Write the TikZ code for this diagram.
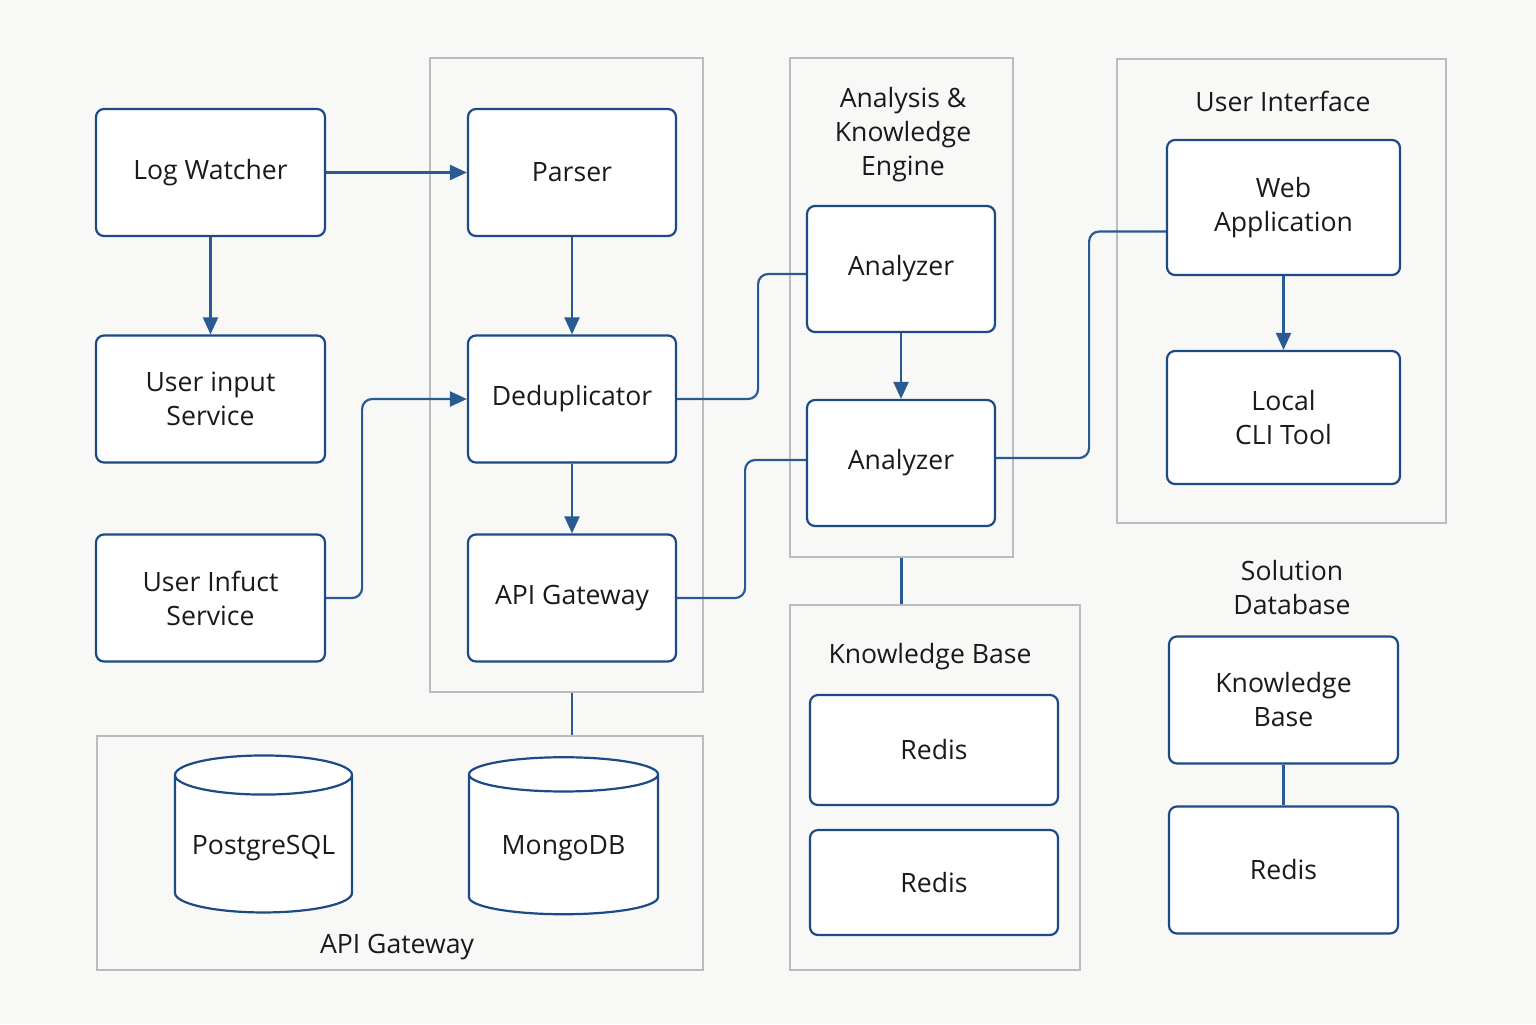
\documentclass[tikz,border=0pt]{standalone}
\usepackage{fontspec}
\setmainfont{Open Sans}
\usetikzlibrary{arrows.meta,calc,positioning,shapes.geometric}
\definecolor{box-color}{HTML}{1D4A87}
\definecolor{wire-color}{HTML}{2A5A93}
\definecolor{group-color}{HTML}{B9BDC2}
\definecolor{page-color}{HTML}{F8F8F7}
\definecolor{ink-color}{HTML}{1A1A1A}
\tikzset{
  label-font/.style={font=\fontsize{13.3}{17}\selectfont, text=ink-color},
  comp/.style={rectangle, rounded corners=4pt, draw=box-color, line width=1.1pt,
    fill=white, align=center, label-font, minimum width=#1, minimum height=63.5pt},
  comp/.default=114.5pt,
  store/.style={cylinder, shape border rotate=90, aspect=0.25, draw=box-color,
    line width=1.1pt, fill=white, label-font, minimum width=#1, minimum height=78.5pt},
  group/.style={rectangle, draw=group-color, line width=0.7pt, inner sep=0},
  caption/.style={align=center, label-font},
  flow/.style={draw=wire-color, line width=1.1pt, -{Triangle[length=8.5pt,width=7.5pt]}},
  link/.style={draw=wire-color, line width=1.1pt, rounded corners=5pt}
}

\begin{document}
\begin{tikzpicture}[x=0.5pt,y=-0.5pt]
  \fill[page-color] (0,0) rectangle (1536,1024);
  \useasboundingbox (0,0) rectangle (1536,1024);

  % groups
  \node[group, minimum width=136.5pt, minimum height=317pt] (ingest) at (566.5,375) {};
  \node[group, minimum width=111.5pt, minimum height=249.5pt] (engine) at (901.5,307.5) {};
  \node[group, minimum width=164.5pt, minimum height=232pt] (ui) at (1281.5,291) {};
  \node[group, minimum width=303pt, minimum height=117pt] (storage) at (400,853) {};
  \node[group, minimum width=145pt, minimum height=182.5pt] (kb) at (935,787.5) {};

  \node[caption] (engine-title) at (903,135) {Analysis \&\\Knowledge\\Engine};
  \node[caption] (ui-title) at (1283,101) {User Interface};
  \node[caption] (storage-title) at (397,947) {API Gateway};
  \node[caption] (kb-title) at (930,657) {Knowledge Base};
  \node[caption] (soldb-title) at (1292,588) {Solution\\Database};

  % sources
  \node[comp] (logw) at (210.5,172.5) {Log Watcher};
  \node[comp] (uinput) at (210.5,399) {User input\\Service};
  \node[comp] (uinfuct) at (210.5,598) {User Infuct\\Service};

  % ingest
  \node[comp=104pt] (parser) at (572,172.5) {Parser};
  \node[comp=104pt] (dedup) at (572,399) {Deduplicator};
  \node[comp=104pt] (apigw) at (572,598) {API Gateway};

  % engine
  \node[comp=94pt, minimum height=63pt] (ana1) at (901,269) {Analyzer};
  \node[comp=94pt, minimum height=63pt] (ana2) at (901,463) {Analyzer};

  % ui
  \node[comp=116.5pt, minimum height=67.5pt] (webapp) at (1283.5,207.5) {Web\\Application};
  \node[comp=116.5pt, minimum height=66.5pt] (cli) at (1283.5,417.5) {Local\\CLI Tool};

  % storage
  \node[store=88.5pt] (pg) at (263.5,848) {PostgreSQL};
  \node[store=94.5pt] (mongo) at (563.5,848) {MongoDB};

  % knowledge base
  \node[comp=124pt, minimum height=55pt] (redis1) at (934,750) {Redis};
  \node[comp=124pt, minimum height=52.5pt] (redis2) at (934,882.5) {Redis};

  % solution database
  \node[comp] (kbox) at (1283.5,700) {Knowledge\\Base};
  \node[comp] (redis3) at (1283.5,870) {Redis};

  \draw[flow] (logw) -- (parser);
  \draw[flow] (logw) -- (uinput);
  \draw[flow] (parser) -- (dedup);
  \draw[flow] (dedup) -- (apigw);
  \draw[flow, rounded corners=5pt] (uinfuct.east) -- ++(36,0) |- (dedup.west);
  \draw[link] (dedup.east) -- ++(81,0) |- ([yshift=-2.5pt]ana1.west);
  \draw[link] (apigw.east) -- ++(68,0) |- ([yshift=1.5pt]ana2.west);
  \draw[flow] (ana1) -- (ana2);
  \draw[link] ([yshift=2.5pt]ana2.east) -- ++(93,0) |- ([yshift=-12pt]webapp.west);
  \draw[flow] (webapp) -- (cli);
  \draw[link] (engine.south) -- (engine.south |- kb.north);
  \draw[link] (ingest.south -| dedup) -- (storage.north -| dedup);
  \draw[link] (kbox) -- (redis3);
\end{tikzpicture}
\end{document}
